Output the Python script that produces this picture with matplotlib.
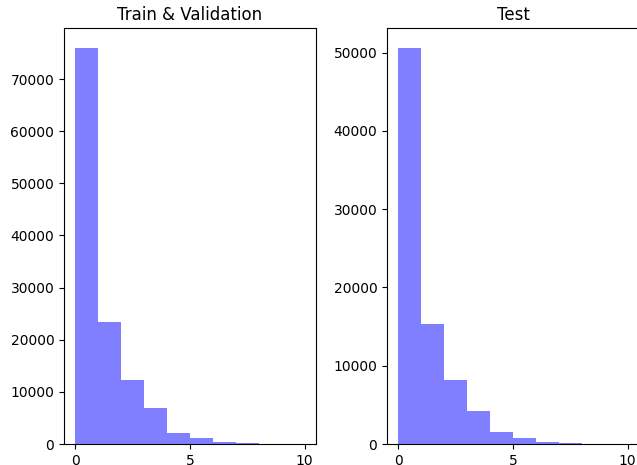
#Histograms of train/validation and test counts

import numpy as np
import matplotlib
matplotlib.use('Agg')
import matplotlib.pyplot as plt

bin_edges = [0, 1, 2, 3, 4, 5, 6, 7, 8, 9, 10]
train_counts = [76000, 23400, 12300, 6900, 2170, 1150, 420, 150, 80, 40]
test_counts = [50600, 15350, 8200, 4250, 1550, 800, 300, 150, 60, 30]
x_ticks = [0, 5, 10]

fig = plt.figure(figsize=(6.37, 4.65), dpi=100)

#axes placed by hand, the right one runs off the edge like the original
ax_train = fig.add_axes([64/637, 21/465, 252/637, 416/465])
ax_test = fig.add_axes([387/637, 21/465, 252/637, 416/465])

centers = np.array(bin_edges[:-1]) + 0.5

ax_train.hist(centers, bins=bin_edges, weights=train_counts, color='b', alpha=0.5)
ax_train.set_title('Train & Validation')
ax_train.set_xticks(x_ticks)

ax_test.hist(centers, bins=bin_edges, weights=test_counts, color='b', alpha=0.5)
ax_test.set_title('Test')
ax_test.set_xticks(x_ticks)

plt.savefig('out.png', dpi=100)
